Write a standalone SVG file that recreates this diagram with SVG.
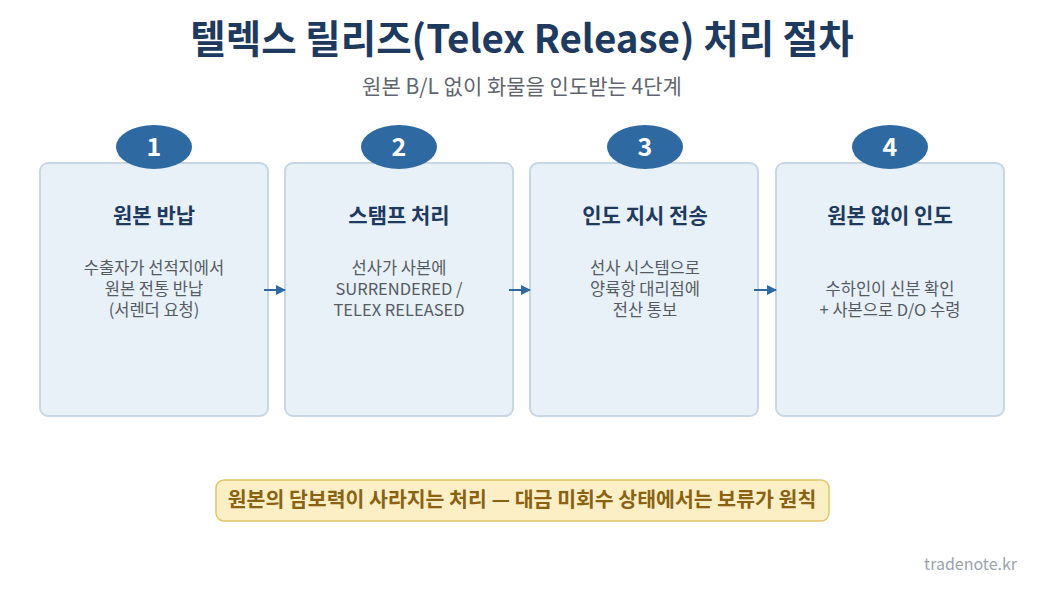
<svg xmlns="http://www.w3.org/2000/svg" width="1044" height="593" viewBox="0 0 1044 593">
<style>
text{font-family:"Noto Sans CJK KR","Noto Sans",sans-serif;text-anchor:middle}
.box{fill:#e8f0f8;stroke:#c9d6e4;stroke-width:2}
.badge{fill:#2e6aa1}
.num{fill:#fff;font-size:25px;font-weight:700}
.h{fill:#1f3a5f;font-size:21px;font-weight:700}
.b{fill:#555b63;font-size:16.5px}
.c{stroke:#2e6aa1;stroke-width:2;fill:none;marker-end:url(#ah)}
</style>
<defs><marker id="ah" viewBox="0 0 10 10" refX="9" refY="5" markerWidth="5" markerHeight="5" orient="auto"><path d="M0,0L10,5L0,10z" fill="#2e6aa1"/></marker></defs>
<rect width="1044" height="593" fill="#fff"/>
<text x="522" y="53" font-size="38.5" font-weight="700" fill="#1f3a5f">텔렉스 릴리즈(Telex Release) 처리 절차</text>
<text x="522" y="94" font-size="21" fill="#5f6670">원본 B/L 없이 화물을 인도받는 4단계</text>
<g id="n1"><rect class="box" x="40" y="163" width="228" height="253" rx="8"/><ellipse class="badge" cx="154" cy="147" rx="38" ry="22"/><text class="num" x="154" y="156">1</text><text class="h" x="154" y="223">원본 반납</text><text class="b" x="154" y="274">수출자가 선적지에서</text><text class="b" x="154" y="295">원본 전통 반납</text><text class="b" x="154" y="316">(서렌더 요청)</text></g>
<g id="n2"><rect class="box" x="285" y="163" width="228" height="253" rx="8"/><ellipse class="badge" cx="399" cy="147" rx="38" ry="22"/><text class="num" x="399" y="156">2</text><text class="h" x="399" y="223">스탬프 처리</text><text class="b" x="399" y="274">선사가 사본에</text><text class="b" x="399" y="295">SURRENDERED /</text><text class="b" x="399" y="316">TELEX RELEASED</text></g>
<g id="n3"><rect class="box" x="530" y="163" width="228" height="253" rx="8"/><ellipse class="badge" cx="645" cy="147" rx="38" ry="22"/><text class="num" x="645" y="156">3</text><text class="h" x="645" y="223">인도 지시 전송</text><text class="b" x="645" y="274">선사 시스템으로</text><text class="b" x="645" y="295">양륙항 대리점에</text><text class="b" x="645" y="316">전산 통보</text></g>
<g id="n4"><rect class="box" x="776" y="163" width="228" height="253" rx="8"/><ellipse class="badge" cx="890" cy="147" rx="38" ry="22"/><text class="num" x="890" y="156">4</text><text class="h" x="890" y="223">원본 없이 인도</text><text class="b" x="890" y="295">수하인이 신분 확인</text><text class="b" x="890" y="316">+ 사본으로 D/O 수령</text></g>
<g id="connectors"><path class="c" d="M264,290H285"/><path class="c" d="M509,290H530"/><path class="c" d="M754,290H776"/></g>
<g id="note"><rect x="216" y="480" width="613" height="41" rx="8" fill="#fcefc6" stroke="#e2c466" stroke-width="1.5"/><text x="522" y="507" font-size="20.5" font-weight="700" fill="#8a6212">원본의 담보력이 사라지는 처리 — 대금 미회수 상태에서는 보류가 원칙</text></g>
<text x="1017" y="570" font-size="16" fill="#9aa3ad" style="text-anchor:end">tradenote.kr</text>
</svg>
